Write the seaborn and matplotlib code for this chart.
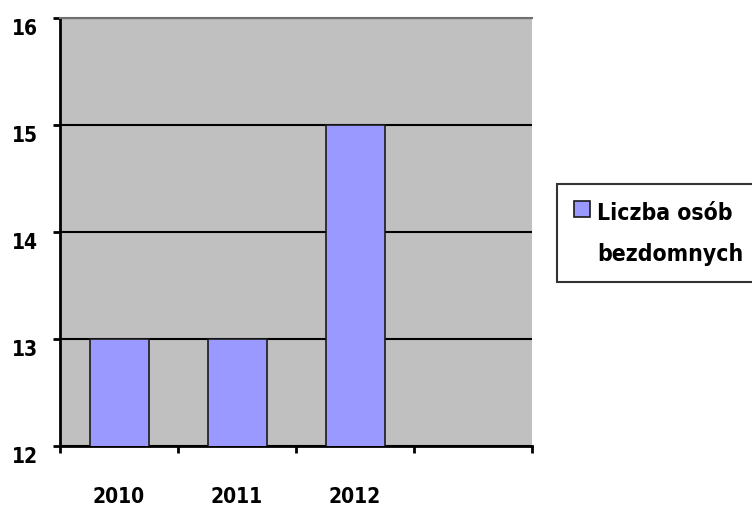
import pandas as pd
import matplotlib
matplotlib.use('Agg')
import matplotlib.pyplot as plt
import matplotlib.transforms as mtrans
import seaborn as sns

# data
years = ['2010', '2011', '2012']
homeless = [13, 13, 15]
series_name = 'Liczba osób\nbezdomnych'

df = pd.DataFrame({'rok': years, 'osoby': homeless})

sns.set_style('white')
plt.rcParams['font.family'] = ['DejaVu Sans']
plt.rcParams['font.weight'] = 'bold'
plt.rcParams['font.stretch'] = 'condensed'
plt.rcParams['text.color'] = 'black'
plt.rcParams['xtick.color'] = 'black'
plt.rcParams['ytick.color'] = 'black'

fig = plt.figure(figsize=(7.52, 5.1), dpi=100)
ax = fig.add_axes([60 / 752, 63 / 510, 472 / 752, 428 / 510])
ax.set_facecolor('#C0C0C0')

sns.barplot(data=df, x='rok', y='osoby', color='#9999FF', width=0.5,
            edgecolor='#1a1a1a', linewidth=1.2, saturation=1,
            label=series_name, ax=ax, zorder=3)

ax.set_ylim(12, 16)
ax.set_xlim(-0.5, 3.5)
ax.set_yticks([12, 13, 14, 15, 16])
ax.yaxis.grid(True, color='black', linewidth=1.5, zorder=1)
ax.set_axisbelow(True)

# category boundaries as ticks, labels on minor ticks at the centres
ax.set_xticks([-0.5, 0.5, 1.5, 2.5, 3.5])
ax.set_xticklabels([])
ax.set_xticks(range(len(years)), minor=True)
ax.set_xticklabels(years, minor=True, fontsize=15)
ax.tick_params(axis='x', which='major', bottom=True, length=5, width=2,
               color='black', direction='out')
ax.tick_params(axis='x', which='minor', bottom=True, length=0, pad=29)
ax.tick_params(axis='y', left=True, length=5, width=2, color='black',
               direction='out', pad=11, labelsize=15)
ax.set_xlabel('')
ax.set_ylabel('')

# y labels sit a little below their ticks in the reference
shift = mtrans.ScaledTranslation(0, -8 / 100, fig.dpi_scale_trans)
for lab in ax.get_yticklabels():
    lab.set_transform(lab.get_transform() + shift)

for s in ['left', 'bottom']:
    ax.spines[s].set_color('black')
    ax.spines[s].set_linewidth(2)
ax.spines['right'].set_visible(False)
ax.spines['top'].set_color('#707070')
ax.spines['top'].set_linewidth(1.5)

leg = ax.legend(loc='upper left', bbox_to_anchor=(557 / 752, 1 - 185 / 510),
                bbox_transform=fig.transFigure, fontsize=16.5, frameon=True,
                fancybox=False, edgecolor='black', handlelength=0.7,
                handleheight=0.7, handletextpad=0.3, borderpad=0.75,
                borderaxespad=0)
leg.get_frame().set_linewidth(1.5)
leg.get_texts()[0].set_linespacing(2.0)
# put the square next to the first line
hp = leg._legend_handle_box.get_children()[0].get_children()[0]
hp.align = 'top'

fig.savefig('out.png', dpi=100)
